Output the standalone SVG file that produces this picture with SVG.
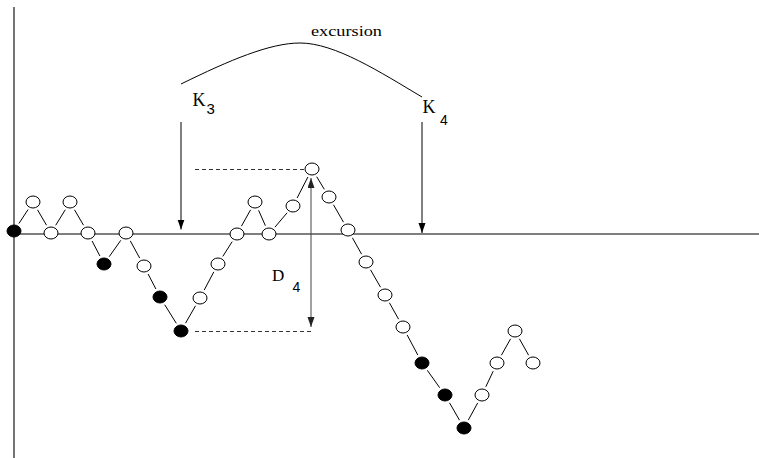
<svg xmlns="http://www.w3.org/2000/svg" width="759" height="458" viewBox="0 0 759 458">
<style>
.n{fill:#fff;stroke:#000;stroke-width:1}
.f{fill:#000;stroke:#000;stroke-width:1}
.e{stroke:#000;stroke-width:1;fill:none}
.ax{stroke:#000;stroke-width:1.1;fill:none}
.dash{stroke:#333;stroke-width:1;stroke-dasharray:4,3;fill:none}
.serif{font-family:"Liberation Serif","Times New Roman",serif;fill:#000}
.sans{font-family:"Liberation Sans",Arial,sans-serif;fill:#000}
</style>
<defs>
<marker id="ah" markerUnits="userSpaceOnUse" markerWidth="10" markerHeight="8" refX="10" refY="3.5" orient="auto">
<path d="M0,0 L10,3.5 L0,7 z" fill="#000"/>
</marker>
<marker id="ahs" markerUnits="userSpaceOnUse" markerWidth="10" markerHeight="8" refX="10" refY="3.5" orient="auto-start-reverse">
<path d="M0,0 L10,3.5 L0,7 z" fill="#222"/>
</marker>
</defs>
<rect width="759" height="458" fill="#fff"/>
<g id="axes">
<line class="ax" x1="14" y1="7" x2="14" y2="458"/>
<line class="ax" x1="14" y1="234" x2="759" y2="234"/>
</g>
<g id="connectors">
<line class="e" x1="18.9" y1="223.5" x2="28.1" y2="209.5"/>
<line class="e" x1="37.5" y1="209.8" x2="46.5" y2="225.2"/>
<line class="e" x1="55.7" y1="225.3" x2="65.3" y2="209.7"/>
<line class="e" x1="74.5" y1="209.8" x2="83.5" y2="225.2"/>
<line class="e" x1="92.1" y1="241" x2="99.9" y2="256"/>
<line class="e" x1="109.2" y1="256.7" x2="120.8" y2="240.3"/>
<line class="e" x1="130.3" y1="240.9" x2="139.7" y2="258.1"/>
<line class="e" x1="148.1" y1="274" x2="155.9" y2="289"/>
<line class="e" x1="164.7" y1="304.7" x2="176.3" y2="323.3"/>
<line class="e" x1="185.5" y1="323.2" x2="195.5" y2="305.8"/>
<line class="e" x1="204.2" y1="290.1" x2="213.8" y2="271.9"/>
<line class="e" x1="222.8" y1="256.4" x2="232.2" y2="241.6"/>
<line class="e" x1="241.4" y1="226.2" x2="250.6" y2="209.8"/>
<line class="e" x1="258.6" y1="210.3" x2="265.4" y2="225.7"/>
<line class="e" x1="274.9" y1="227.2" x2="287.1" y2="212.8"/>
<line class="e" x1="297.1" y1="198" x2="307.9" y2="177"/>
<line class="e" x1="316.7" y1="176.7" x2="324.3" y2="189.3"/>
<line class="e" x1="333.5" y1="204.8" x2="343.5" y2="222.2"/>
<line class="e" x1="352.4" y1="237.8" x2="361.6" y2="254.2"/>
<line class="e" x1="370.5" y1="269.8" x2="380.5" y2="287.2"/>
<line class="e" x1="389.4" y1="302.8" x2="398.6" y2="319.2"/>
<line class="e" x1="407.2" y1="335" x2="417.8" y2="355"/>
<line class="e" x1="427.3" y1="370.3" x2="439.7" y2="387.7"/>
<line class="e" x1="449.5" y1="402.8" x2="459.5" y2="420.2"/>
<line class="e" x1="468.3" y1="420.1" x2="477.7" y2="402.9"/>
<line class="e" x1="485.8" y1="386.8" x2="493.2" y2="371.2"/>
<line class="e" x1="501.4" y1="355.2" x2="510.6" y2="338.8"/>
<line class="e" x1="519.4" y1="338.8" x2="528.6" y2="355.2"/>
</g>
<g id="nodes">
<g id="n1"><ellipse class="f" cx="14" cy="231" rx="7" ry="6"/></g>
<g id="n2"><ellipse class="n" cx="33" cy="202" rx="7" ry="6"/></g>
<g id="n3"><ellipse class="n" cx="51" cy="233" rx="7" ry="6"/></g>
<g id="n4"><ellipse class="n" cx="70" cy="202" rx="7" ry="6"/></g>
<g id="n5"><ellipse class="n" cx="88" cy="233" rx="7" ry="6"/></g>
<g id="n6"><ellipse class="f" cx="104" cy="264" rx="7" ry="6"/></g>
<g id="n7"><ellipse class="n" cx="126" cy="233" rx="7" ry="6"/></g>
<g id="n8"><ellipse class="n" cx="144" cy="266" rx="7" ry="6"/></g>
<g id="n9"><ellipse class="f" cx="160" cy="297" rx="7" ry="6"/></g>
<g id="n10"><ellipse class="f" cx="181" cy="331" rx="7" ry="6"/></g>
<g id="n11"><ellipse class="n" cx="200" cy="298" rx="7" ry="6"/></g>
<g id="n12"><ellipse class="n" cx="218" cy="264" rx="7" ry="6"/></g>
<g id="n13"><ellipse class="n" cx="237" cy="234" rx="7" ry="6"/></g>
<g id="n14"><ellipse class="n" cx="255" cy="202" rx="7" ry="6"/></g>
<g id="n15"><ellipse class="n" cx="269" cy="234" rx="7" ry="6"/></g>
<g id="n16"><ellipse class="n" cx="293" cy="206" rx="7" ry="6"/></g>
<g id="n17"><ellipse class="n" cx="312" cy="169" rx="7" ry="6"/></g>
<g id="n18"><ellipse class="n" cx="329" cy="197" rx="7" ry="6"/></g>
<g id="n19"><ellipse class="n" cx="348" cy="230" rx="7" ry="6"/></g>
<g id="n20"><ellipse class="n" cx="366" cy="262" rx="7" ry="6"/></g>
<g id="n21"><ellipse class="n" cx="385" cy="295" rx="7" ry="6"/></g>
<g id="n22"><ellipse class="n" cx="403" cy="327" rx="7" ry="6"/></g>
<g id="n23"><ellipse class="f" cx="422" cy="363" rx="7" ry="6"/></g>
<g id="n24"><ellipse class="f" cx="445" cy="395" rx="7" ry="6"/></g>
<g id="n25"><ellipse class="f" cx="464" cy="428" rx="7" ry="6"/></g>
<g id="n26"><ellipse class="n" cx="482" cy="395" rx="7" ry="6"/></g>
<g id="n27"><ellipse class="n" cx="497" cy="363" rx="7" ry="6"/></g>
<g id="n28"><ellipse class="n" cx="515" cy="331" rx="7" ry="6"/></g>
<g id="n29"><ellipse class="n" cx="533" cy="363" rx="7" ry="6"/></g>
</g>
<g id="annotations">
<path class="e" d="M181,84 C230,60 270,43 300,43 C335,43 380,72 422,97"/>
<text class="serif" x="311" y="36" font-size="15" textLength="71" lengthAdjust="spacingAndGlyphs">excursion</text>
<text class="serif" x="192.5" y="106" font-size="18">K</text>
<text class="sans" x="206.5" y="114" font-size="15">3</text>
<text class="serif" x="422.5" y="113" font-size="18">K</text>
<text class="sans" x="440" y="125" font-size="14">4</text>
<text class="serif" x="272" y="281" font-size="17">D</text>
<text class="sans" x="292.5" y="291.5" font-size="14">4</text>
<line class="e" x1="181" y1="122" x2="181" y2="229.5" marker-end="url(#ah)"/>
<line class="e" x1="422" y1="122" x2="422" y2="233" marker-end="url(#ah)"/>
<line x1="311" y1="178" x2="311" y2="327" stroke="#444" stroke-width="1" marker-start="url(#ahs)" marker-end="url(#ahs)"/>
<line class="dash" x1="195" y1="169.5" x2="304" y2="169.5"/>
<line class="dash" x1="195" y1="331.5" x2="311" y2="331.5"/>
</g>
</svg>
